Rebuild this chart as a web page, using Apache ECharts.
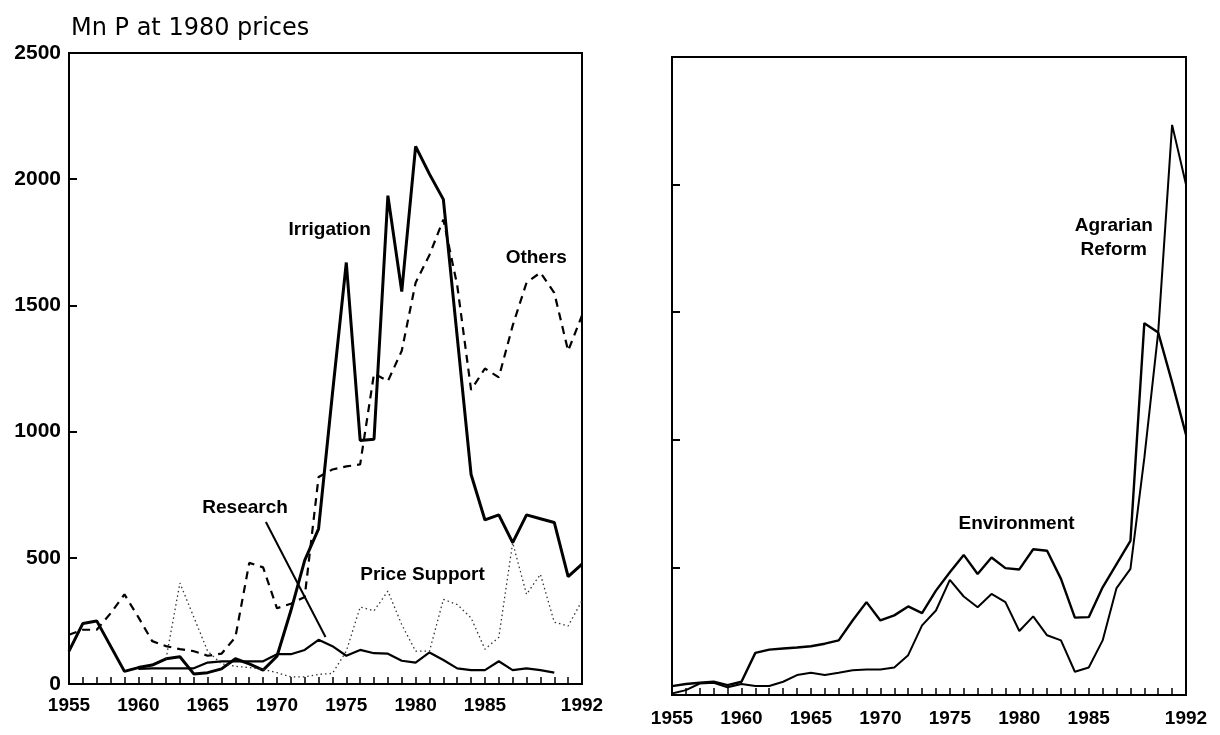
<!DOCTYPE html>
<html>
<head>
<meta charset="utf-8">
<script src="https://cdn.jsdelivr.net/npm/echarts@6/dist/echarts.min.js"></script>
<style>
  html, body { margin: 0; padding: 0; background: #fff; }
  #chart { width: 1220px; height: 735px; }
</style>
</head>
<body>
<div id="chart"></div>
<script>
const years = [1955, 1956, 1957, 1958, 1959, 1960, 1961, 1962, 1963, 1964,
  1965, 1966, 1967, 1968, 1969, 1970, 1971, 1972, 1973, 1974,
  1975, 1976, 1977, 1978, 1979, 1980, 1981, 1982, 1983, 1984,
  1985, 1986, 1987, 1988, 1989, 1990, 1991, 1992]

// left panel, Mn P at 1980 prices
const irrigation = [130, 240, 250, 150, 50, 65, 75, 100, 108, 40,
  45, 60, 100, 80, 55, 110, 290, 490, 615, 1150,
  1670, 965, 970, 1935, 1555, 2130, 2020, 1920, 1375, 830,
  650, 670, 560, 670, 655, 640, 425, 475]
const others = [195, 215, 215, 280, 355, 265, 170, 150, 138, 130,
  112, 120, 185, 480, 462, 300, 318, 345, 820, 850,
  862, 870, 1230, 1200, 1320, 1590, 1700, 1840, 1580, 1165,
  1250, 1215, 1420, 1590, 1630, 1550, 1320, 1460]
const research = [null, null, null, null, null, 60, 62, 62, 62, 62,
  85, 90, 90, 90, 90, 118, 118, 135, 175, 150,
  112, 135, 122, 120, 92, 85, 125, 95, 62, 55,
  55, 90, 55, 62, 55, 45, null, null]
const priceSupport = [null, null, null, null, null, null, null, 100, 400, 265,
  130, 80, 70, 65, 58, 45, 28, 28, 38, 42,
  130, 305, 290, 368, 235, 130, 130, 335, 315, 262,
  138, 185, 560, 355, 435, 245, 230, 330]

// right panel
const agrarianReform = [6, 19, 45, 48, 30, 43, 35, 35, 52, 78,
  87, 78, 87, 97, 100, 100, 108, 156, 273, 331,
  451, 386, 344, 396, 364, 251, 308, 234, 214, 91,
  108, 214, 419, 494, 929, 1422, 2234, 2000]
const environment = [35, 43, 48, 52, 39, 52, 165, 178, 182, 186,
  191, 201, 214, 292, 364, 292, 312, 347, 321, 409,
  481, 549, 474, 539, 497, 492, 571, 565, 455, 303,
  305, 422, 513, 604, 1457, 1420, 1225, 1020]

const yearLabels = [1955, 1960, 1965, 1970, 1975, 1980, 1985, 1992]

// text labels (year, value)
const leftNotes = [
  { name: 'Irrigation', value: [1973.8, 1800] },
  { name: 'Others', value: [1988.7, 1690] },
  { name: 'Research', value: [1967.7, 700] },
  { name: 'Price Support', value: [1980.5, 432] },
]
const rightNotes = [
  { name: 'Agrarian\nReform', value: [1986.8, 1790] },
  { name: 'Environment', value: [1979.8, 672] },
]
const researchPointer = [[1969.2, 642], [1973.5, 186]]

const font = 'Liberation Sans'

function pts(vals) {
  return years.map((y, i) => [y, vals[i]])
}

function xAxisFor(idx) {
  return {
    type: 'value', gridIndex: idx, min: 1955, max: 1992, interval: 1,
    axisLine: { lineStyle: { color: '#000', width: 2 } },
    axisTick: { inside: true, length: 7, lineStyle: { color: '#000', width: 1.5 } },
    axisLabel: {
      margin: idx === 0 ? 12 : 14,
      color: '#000', fontSize: 19, fontWeight: 'bold', fontFamily: font,
      formatter: v => (yearLabels.includes(v) ? String(v) : ''),
    },
    splitLine: { show: false },
  }
}

function yAxisFor(idx) {
  return {
    type: 'value', gridIndex: idx, min: 0, max: 2500, interval: 500,
    axisLine: { show: true, lineStyle: { color: '#000', width: 2 } },
    axisTick: { show: true, inside: true, length: 8, lineStyle: { color: '#000', width: 2 } },
    axisLabel: {
      show: idx === 0, margin: 8,
      color: '#000', fontSize: 21, fontWeight: 'bold', fontFamily: font,
      formatter: v => String(v),
    },
    splitLine: { show: false },
  }
}

function noteSeries(idx, notes) {
  return {
    type: 'scatter', xAxisIndex: idx, yAxisIndex: idx, silent: true,
    symbolSize: 1, itemStyle: { color: 'rgba(0,0,0,0)' },
    data: notes,
    label: {
      show: true, position: 'inside', formatter: p => p.name,
      color: '#000', fontSize: 19, fontWeight: 'bold', fontFamily: font,
      textBorderWidth: 0, opacity: 1,
      lineHeight: 24, align: 'center',
    },
    emphasis: { disabled: true },
    z: 5,
  }
}

const chart = echarts.init(document.getElementById('chart'))
chart.setOption({
  animation: false,
  backgroundColor: '#fff',
  title: {
    text: 'Mn P at 1980 prices',
    left: 66, top: 12,
    textStyle: { color: '#000', fontSize: 24, fontWeight: 'normal', fontFamily: 'DejaVu Sans' },
  },
  grid: [
    { left: 69, top: 53, width: 513, height: 631, show: true, borderColor: '#000', borderWidth: 2 },
    { left: 672, top: 57, width: 514, height: 638, show: true, borderColor: '#000', borderWidth: 2 },
  ],
  xAxis: [xAxisFor(0), xAxisFor(1)],
  yAxis: [yAxisFor(0), yAxisFor(1)],
  series: [
    {
      name: 'Irrigation', type: 'line', xAxisIndex: 0, yAxisIndex: 0,
      data: pts(irrigation), showSymbol: false,
      lineStyle: { color: '#000', width: 3 },
    },
    {
      name: 'Others', type: 'line', xAxisIndex: 0, yAxisIndex: 0,
      data: pts(others), showSymbol: false,
      lineStyle: { color: '#000', width: 2.2, type: [8, 6] },
    },
    {
      name: 'Research', type: 'line', xAxisIndex: 0, yAxisIndex: 0,
      data: pts(research), showSymbol: false,
      lineStyle: { color: '#000', width: 2.2 },
      markLine: {
        silent: true, symbol: 'none', label: { show: false },
        lineStyle: { color: '#000', width: 2, type: 'solid' },
        data: [[{ coord: researchPointer[0] }, { coord: researchPointer[1] }]],
      },
    },
    {
      name: 'Price Support', type: 'line', xAxisIndex: 0, yAxisIndex: 0,
      data: pts(priceSupport), showSymbol: false,
      lineStyle: { color: '#333', width: 1.3, type: [1.5, 3] },
    },
    noteSeries(0, leftNotes),
    {
      name: 'Agrarian Reform', type: 'line', xAxisIndex: 1, yAxisIndex: 1,
      data: pts(agrarianReform), showSymbol: false,
      lineStyle: { color: '#000', width: 2 },
    },
    {
      name: 'Environment', type: 'line', xAxisIndex: 1, yAxisIndex: 1,
      data: pts(environment), showSymbol: false,
      lineStyle: { color: '#000', width: 2.4 },
    },
    noteSeries(1, rightNotes),
  ],
})
</script>
</body>
</html>
